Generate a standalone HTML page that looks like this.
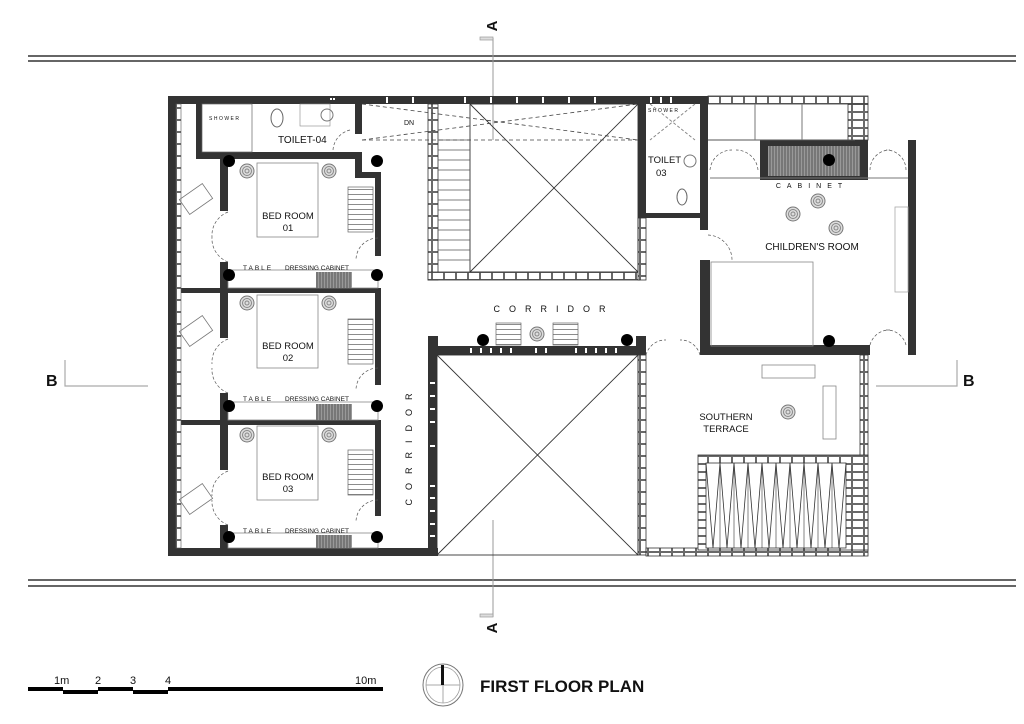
<!DOCTYPE html>
<html><head><meta charset="utf-8"><style>
html,body{margin:0;padding:0;background:#fff;}
svg{display:block;}
text{font-family:"Liberation Sans",sans-serif;fill:#111;}
</style></head><body>
<svg width="1024" height="724" viewBox="0 0 1024 724" xmlns="http://www.w3.org/2000/svg">
<defs>
<pattern id="brickH" width="12" height="8" patternUnits="userSpaceOnUse">
<rect width="12" height="8" fill="#fff"/><rect x="0.5" y="0.5" width="11" height="7" fill="none" stroke="#444" stroke-width="0.8"/></pattern>
<pattern id="brickV" width="8" height="12" patternUnits="userSpaceOnUse">
<rect width="8" height="12" fill="#fff"/><rect x="0.5" y="0.5" width="7" height="11" fill="none" stroke="#444" stroke-width="0.8"/></pattern>
<pattern id="stripe" width="3" height="3" patternUnits="userSpaceOnUse"><rect width="3" height="3" fill="#777"/><rect width="1" height="3" fill="#999"/></pattern>
<pattern id="wardrobe" width="25" height="5" patternUnits="userSpaceOnUse"><rect width="25" height="5" fill="#fff"/><line x1="0" y1="4.5" x2="25" y2="4.5" stroke="#666" stroke-width="0.8"/></pattern>
<g id="pot"><circle r="7" fill="#ddd" stroke="#777"/><circle r="4.5" fill="none" stroke="#888"/><circle r="2" fill="none" stroke="#888"/></g>
</defs>

<line x1="28" y1="56" x2="1016" y2="56" stroke="#333" stroke-width="1.5"/>
<line x1="28" y1="61" x2="1016" y2="61" stroke="#333" stroke-width="1.5"/>
<line x1="28" y1="580" x2="1016" y2="580" stroke="#333" stroke-width="1.5"/>
<line x1="28" y1="586" x2="1016" y2="586" stroke="#333" stroke-width="1.5"/>

<line x1="493" y1="38" x2="493" y2="140" stroke="#999" stroke-width="1"/>
<rect x="480" y="37" width="13" height="3" fill="#ddd" stroke="#999" stroke-width="0.7"/>
<text x="0" y="0" font-size="15" font-weight="bold" transform="translate(497,26) rotate(-90)" text-anchor="middle">A</text>
<line x1="493" y1="520" x2="493" y2="617" stroke="#999" stroke-width="1"/>
<rect x="480" y="614" width="13" height="3" fill="#ddd" stroke="#999" stroke-width="0.7"/>
<text x="0" y="0" font-size="15" font-weight="bold" transform="translate(497,628) rotate(-90)" text-anchor="middle">A</text>
<polyline points="65,360 65,386 148,386" fill="none" stroke="#aaa" stroke-width="1.2"/>
<text x="46" y="386" font-size="16" font-weight="bold">B</text>
<polyline points="876,386 957,386 957,360" fill="none" stroke="#aaa" stroke-width="1.2"/>
<text x="963" y="386" font-size="16" font-weight="bold">B</text>

<g fill="#333">
<rect x="168" y="96" width="540" height="8"/>
<rect x="168" y="96" width="8" height="460"/>
<rect x="168" y="548" width="270" height="8"/>
<rect x="196" y="104" width="6" height="50"/>
<rect x="196" y="152" width="166" height="7"/>
<rect x="355" y="104" width="7" height="30"/>
<rect x="355" y="152" width="7" height="22"/>
<rect x="355" y="172" width="25" height="6"/>
<rect x="375" y="172" width="6" height="84"/>
<rect x="220" y="156" width="8" height="55"/>
<rect x="220" y="262" width="8" height="26"/>
<rect x="168" y="288" width="212" height="5"/>
<rect x="375" y="288" width="6" height="97"/>
<rect x="220" y="288" width="8" height="50"/>
<rect x="220" y="393" width="8" height="30"/>
<rect x="168" y="420" width="212" height="5"/>
<rect x="375" y="420" width="6" height="96"/>
<rect x="220" y="420" width="8" height="50"/>
<rect x="220" y="525" width="8" height="25"/>
<rect x="428" y="346" width="218" height="9"/>
<rect x="428" y="355" width="9" height="200"/>
<rect x="428" y="336" width="10" height="12"/>
<rect x="636" y="336" width="10" height="12"/>
<rect x="638" y="96" width="8" height="122"/>
<rect x="700" y="96" width="8" height="134"/>
<rect x="646" y="213" width="54" height="5"/>
<rect x="700" y="260" width="10" height="95"/>
<rect x="700" y="345" width="170" height="10"/>
<rect x="908" y="140" width="8" height="215"/>
<rect x="760" y="140" width="108" height="40"/>
</g>
<rect x="768" y="146" width="92" height="30" fill="url(#stripe)"/>
<g fill="#fff"><rect x="386" y="97" width="2" height="6"/><rect x="412" y="97" width="2" height="6"/><rect x="464" y="97" width="2" height="6"/><rect x="490" y="97" width="2" height="6"/><rect x="516" y="97" width="2" height="6"/><rect x="542" y="97" width="2" height="6"/><rect x="568" y="97" width="2" height="6"/><rect x="594" y="97" width="2" height="6"/><rect x="650" y="97" width="2" height="6"/><rect x="660" y="97" width="2" height="6"/><rect x="670" y="97" width="2" height="6"/>
<rect x="330" y="98" width="2" height="2"/><rect x="333" y="98" width="2" height="2"/>
<rect x="470" y="348" width="2" height="5"/><rect x="480" y="348" width="2" height="5"/><rect x="490" y="348" width="2" height="5"/><rect x="500" y="348" width="2" height="5"/><rect x="510" y="348" width="2" height="5"/><rect x="535" y="348" width="2" height="5"/><rect x="545" y="348" width="2" height="5"/><rect x="575" y="348" width="2" height="5"/><rect x="585" y="348" width="2" height="5"/><rect x="595" y="348" width="2" height="5"/><rect x="605" y="348" width="2" height="5"/><rect x="615" y="348" width="2" height="5"/>
<rect x="430" y="382" width="5" height="2"/><rect x="430" y="395" width="5" height="2"/><rect x="430" y="408" width="5" height="2"/><rect x="430" y="421" width="5" height="2"/><rect x="430" y="445" width="5" height="2"/><rect x="430" y="485" width="5" height="2"/><rect x="430" y="497" width="5" height="2"/><rect x="430" y="510" width="5" height="2"/><rect x="430" y="523" width="5" height="2"/><rect x="430" y="535" width="5" height="2"/>
</g>

<rect x="708" y="96" width="160" height="8" fill="url(#brickH)" stroke="#333" stroke-width="0.8"/>
<rect x="848" y="104" width="20" height="36" fill="url(#brickH)" stroke="#333" stroke-width="0.8"/>
<rect x="428" y="104" width="10" height="176" fill="url(#brickV)" stroke="#333" stroke-width="0.8"/>
<rect x="428" y="272" width="212" height="8" fill="url(#brickH)" stroke="#333" stroke-width="0.8"/>
<rect x="638" y="218" width="8" height="62" fill="url(#brickV)" stroke="#333" stroke-width="0.8"/>
<rect x="638" y="355" width="8" height="200" fill="url(#brickV)" stroke="#333" stroke-width="0.8"/>
<rect x="646" y="548" width="222" height="8" fill="url(#brickH)" stroke="#333" stroke-width="0.8"/>
<rect x="860" y="355" width="8" height="195" fill="url(#brickV)" stroke="#333" stroke-width="0.8"/>
<rect x="698" y="455" width="170" height="95" fill="url(#brickH)" stroke="#333" stroke-width="0.8"/>
<rect x="706" y="463" width="140" height="85" fill="#fff" stroke="#333" stroke-width="0.8"/>
<polyline points="706,463 713,548 720,463 727,548 734,463 741,548 748,463 755,548 762,463 769,548 776,463 783,548 790,463 797,548 804,463 811,548 818,463 825,548 832,463 839,548 846,463" fill="none" stroke="#333" stroke-width="0.8"/>
<g stroke="#333" stroke-width="0.6"><line x1="720" y1="463" x2="720" y2="548"/><line x1="734" y1="463" x2="734" y2="548"/><line x1="748" y1="463" x2="748" y2="548"/><line x1="762" y1="463" x2="762" y2="548"/><line x1="776" y1="463" x2="776" y2="548"/><line x1="790" y1="463" x2="790" y2="548"/><line x1="804" y1="463" x2="804" y2="548"/><line x1="818" y1="463" x2="818" y2="548"/><line x1="832" y1="463" x2="832" y2="548"/></g>
<rect x="176" y="104" width="5" height="444" fill="url(#brickV)" stroke="#555" stroke-width="0.6"/>

<g fill="none" stroke="#333" stroke-width="0.9">
<rect x="470" y="104" width="168" height="168"/>
<line x1="470" y1="104" x2="638" y2="272"/><line x1="638" y1="104" x2="470" y2="272"/>
<rect x="437" y="355" width="201" height="200"/>
<line x1="437" y1="355" x2="638" y2="555"/><line x1="638" y1="355" x2="437" y2="555"/>
</g>
<g stroke="#555" stroke-width="0.7">
<line x1="438" y1="140" x2="470" y2="140"/><line x1="438" y1="150" x2="470" y2="150"/><line x1="438" y1="160" x2="470" y2="160"/><line x1="438" y1="170" x2="470" y2="170"/><line x1="438" y1="180" x2="470" y2="180"/><line x1="438" y1="190" x2="470" y2="190"/><line x1="438" y1="200" x2="470" y2="200"/><line x1="438" y1="210" x2="470" y2="210"/><line x1="438" y1="220" x2="470" y2="220"/><line x1="438" y1="230" x2="470" y2="230"/><line x1="438" y1="240" x2="470" y2="240"/><line x1="438" y1="250" x2="470" y2="250"/><line x1="438" y1="260" x2="470" y2="260"/>
</g>
<g stroke="#444" stroke-width="0.8" stroke-dasharray="4,3" fill="none">
<line x1="362" y1="104" x2="638" y2="140"/><line x1="362" y1="140" x2="638" y2="104"/><line x1="362" y1="140" x2="638" y2="140"/>
</g>
<text x="404" y="125" font-size="7">DN</text>

<rect x="202" y="104" width="50" height="48" fill="none" stroke="#666" stroke-width="0.7"/>
<text x="209" y="120" font-size="5" letter-spacing="1.5">SHOWER</text>
<ellipse cx="277" cy="118" rx="6" ry="9" fill="none" stroke="#666"/>
<rect x="300" y="104" width="30" height="22" fill="none" stroke="#888" stroke-width="0.6"/>
<circle cx="327" cy="115" r="6" fill="none" stroke="#777"/>
<text x="278" y="143" font-size="10">TOILET-04</text>
<text x="648" y="112" font-size="5" letter-spacing="1.5">SHOWER</text>
<line x1="650" y1="104" x2="695" y2="140" stroke="#888" stroke-dasharray="3,2"/><line x1="695" y1="104" x2="650" y2="140" stroke="#888" stroke-dasharray="3,2"/>
<text x="648" y="163" font-size="9.5">TOILET</text>
<text x="656" y="176" font-size="9.5">03</text>
<circle cx="690" cy="161" r="6" fill="none" stroke="#777"/>
<ellipse cx="682" cy="197" rx="5" ry="8" fill="none" stroke="#666"/>

<g fill="none" stroke="#888" stroke-width="0.8">
<rect x="257" y="163" width="61" height="74"/><rect x="257" y="295" width="61" height="73"/><rect x="257" y="426" width="61" height="74"/>
<rect x="228" y="270" width="150" height="18"/><rect x="228" y="402" width="150" height="18"/><rect x="228" y="533" width="150" height="15"/>
</g>
<rect x="348" y="187" width="25" height="45" fill="url(#wardrobe)" stroke="#666" stroke-width="0.7"/>
<rect x="348" y="319" width="25" height="45" fill="url(#wardrobe)" stroke="#666" stroke-width="0.7"/>
<rect x="348" y="450" width="25" height="45" fill="url(#wardrobe)" stroke="#666" stroke-width="0.7"/>
<rect x="316" y="272" width="36" height="16" fill="url(#stripe)"/>
<rect x="316" y="404" width="36" height="16" fill="url(#stripe)"/>
<rect x="316" y="535" width="36" height="13" fill="url(#stripe)"/>
<use href="#pot" x="247" y="171"/><use href="#pot" x="329" y="171"/>
<use href="#pot" x="247" y="303"/><use href="#pot" x="329" y="303"/>
<use href="#pot" x="247" y="435"/><use href="#pot" x="329" y="435"/>
<g font-size="9.5" text-anchor="middle">
<text x="288" y="219">BED ROOM</text><text x="288" y="231">01</text>
<text x="288" y="349">BED ROOM</text><text x="288" y="361">02</text>
<text x="288" y="480">BED ROOM</text><text x="288" y="492">03</text>
</g>
<g font-size="6.5">
<text x="243" y="270" letter-spacing="2">TABLE</text><text x="285" y="270">DRESSING CABINET</text>
<text x="243" y="401" letter-spacing="2">TABLE</text><text x="285" y="401">DRESSING CABINET</text>
<text x="243" y="533" letter-spacing="2">TABLE</text><text x="285" y="533">DRESSING CABINET</text>
</g>
<g fill="none" stroke="#777" stroke-width="0.8">
<rect x="182" y="190" width="28" height="18" transform="rotate(-35 196 199)"/>
<rect x="182" y="322" width="28" height="18" transform="rotate(-35 196 331)"/>
<rect x="182" y="490" width="28" height="18" transform="rotate(-35 196 499)"/>
</g>
<g fill="none" stroke="#555" stroke-width="0.7" stroke-dasharray="3,2">
<path d="M228,212 A25,25 0 0 0 212,237"/><path d="M228,262 A25,25 0 0 1 212,237"/>
<path d="M228,339 A25,25 0 0 0 212,364"/><path d="M228,393 A25,25 0 0 1 212,368"/>
<path d="M228,471 A25,25 0 0 0 212,496"/><path d="M228,525 A25,25 0 0 1 212,500"/>
<path d="M378,238 A22,22 0 0 0 356,260"/><path d="M378,368 A22,22 0 0 0 356,390"/><path d="M378,500 A22,22 0 0 0 356,522"/>
<path d="M350,130 A22,22 0 0 0 333,150"/>
<path d="M708,235 A25,25 0 0 1 732,260"/>
<path d="M646,355 A20,20 0 0 1 666,340"/><path d="M700,355 A20,20 0 0 0 680,340"/>
<path d="M710,170 A22,22 0 0 1 732,150"/><path d="M758,170 A22,22 0 0 0 736,150"/>
<path d="M870,170 A20,20 0 0 1 890,150"/><path d="M906,170 A20,20 0 0 0 886,150"/>
<path d="M870,345 A20,20 0 0 1 890,330"/><path d="M906,345 A20,20 0 0 0 886,330"/>
</g>

<text x="554" y="312" font-size="9" letter-spacing="9" text-anchor="middle">CORRIDOR</text>
<text x="0" y="0" font-size="9" letter-spacing="9" transform="translate(412,445) rotate(-90)" text-anchor="middle">CORRIDOR</text>
<rect x="496" y="323" width="25" height="22" fill="url(#wardrobe)" stroke="#666" stroke-width="0.7"/>
<rect x="553" y="323" width="25" height="22" fill="url(#wardrobe)" stroke="#666" stroke-width="0.7"/>
<use href="#pot" x="537" y="334"/>

<line x1="708" y1="140" x2="855" y2="140" stroke="#555"/>
<line x1="755" y1="104" x2="755" y2="140" stroke="#777"/><line x1="802" y1="104" x2="802" y2="140" stroke="#777"/>
<line x1="710" y1="178" x2="908" y2="178" stroke="#777"/>
<text x="812" y="188" font-size="7" letter-spacing="6" text-anchor="middle">CABINET</text>
<use href="#pot" x="793" y="214"/><use href="#pot" x="818" y="201"/><use href="#pot" x="836" y="228"/>
<text x="812" y="250" font-size="10" text-anchor="middle">CHILDREN'S ROOM</text>
<rect x="711" y="262" width="102" height="84" fill="none" stroke="#888" stroke-width="0.8"/>
<rect x="895" y="207" width="13" height="85" fill="none" stroke="#aaa" stroke-width="0.8"/>
<rect x="762" y="365" width="53" height="13" fill="none" stroke="#888" stroke-width="0.8"/>
<rect x="823" y="386" width="13" height="53" fill="none" stroke="#888" stroke-width="0.8"/>
<use href="#pot" x="788" y="412"/>
<text x="726" y="420" font-size="9.5" text-anchor="middle">SOUTHERN</text>
<text x="726" y="432" font-size="9.5" text-anchor="middle">TERRACE</text>

<g fill="#000">
<circle cx="229" cy="161" r="6"/><circle cx="377" cy="161" r="6"/>
<circle cx="229" cy="275" r="6"/><circle cx="377" cy="275" r="6"/>
<circle cx="229" cy="406" r="6"/><circle cx="377" cy="406" r="6"/>
<circle cx="229" cy="537" r="6"/><circle cx="377" cy="537" r="6"/>
<circle cx="483" cy="340" r="6"/><circle cx="627" cy="340" r="6"/>
<circle cx="829" cy="160" r="6"/><circle cx="829" cy="341" r="6"/>
</g>

<g fill="#000">
<rect x="28" y="687" width="35" height="4"/><rect x="63" y="690" width="35" height="4"/>
<rect x="98" y="687" width="35" height="4"/><rect x="133" y="690" width="35" height="4"/>
<rect x="168" y="687" width="215" height="4"/>
</g>
<g font-size="11"><text x="54" y="684">1m</text><text x="95" y="684">2</text><text x="130" y="684">3</text><text x="165" y="684">4</text><text x="355" y="684">10m</text></g>
<ellipse cx="443" cy="685" rx="20" ry="21" fill="none" stroke="#777" stroke-width="1"/>
<ellipse cx="443" cy="685" rx="17" ry="18" fill="none" stroke="#999" stroke-width="0.8"/>
<line x1="426" y1="685" x2="460" y2="685" stroke="#aaa"/>
<line x1="443" y1="685" x2="443" y2="703" stroke="#aaa"/>
<rect x="441" y="665" width="3" height="20" fill="#111"/>
<text x="480" y="692" font-size="17" font-weight="bold">FIRST FLOOR PLAN</text>
</svg>
</body></html>
